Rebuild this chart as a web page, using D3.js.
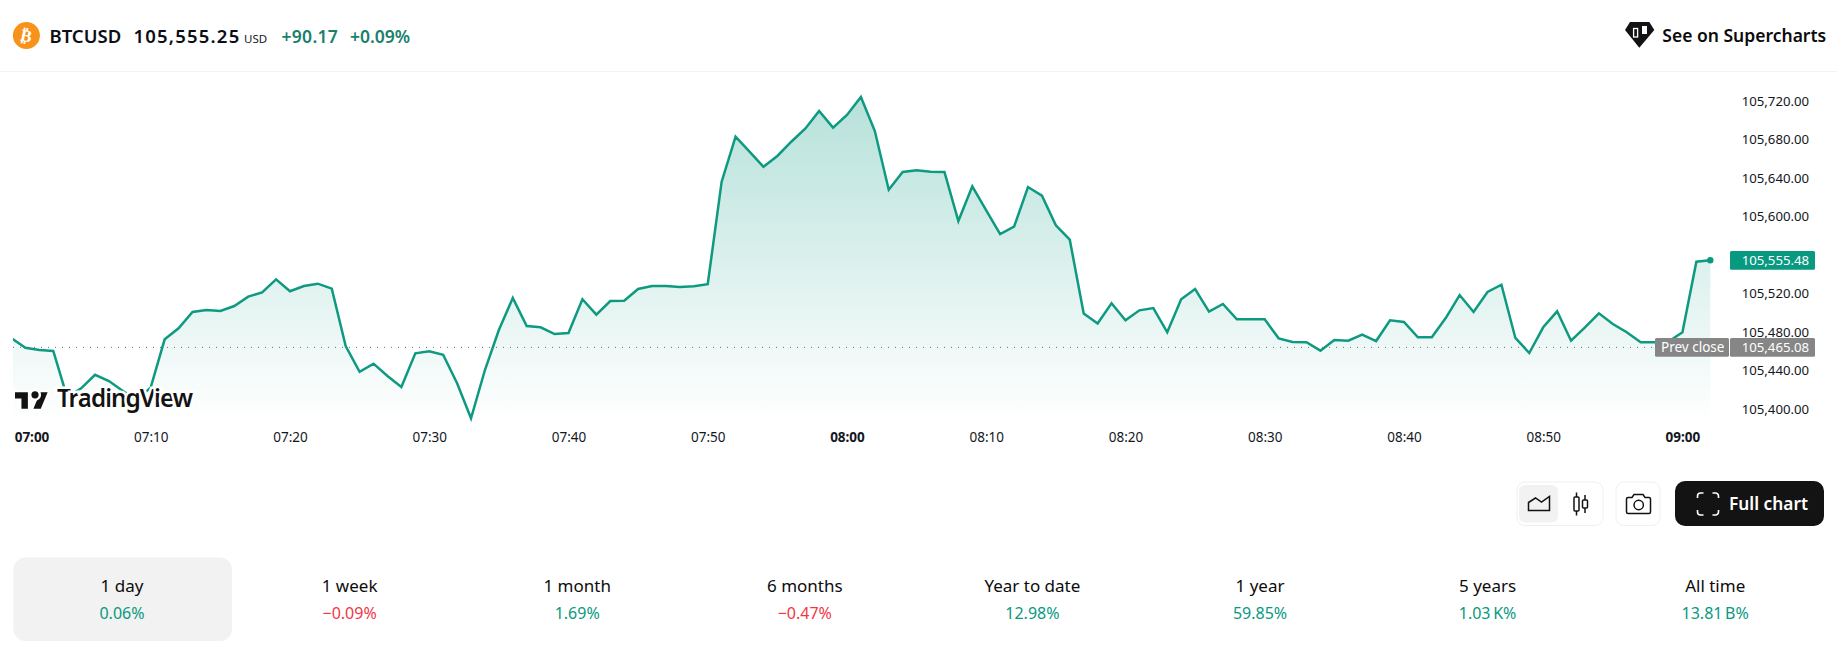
<!DOCTYPE html>
<html>
<head>
<meta charset="utf-8">
<script src="https://cdn.jsdelivr.net/npm/d3@7"></script>
<style>
  html, body { margin: 0; padding: 0; background: #fff; }
  svg { display: block; font-family: "Noto Sans", sans-serif; }
</style>
</head>
<body>
<div class="chart"></div>
<script>
// one minute closes, 07:00 to 09:02
const closes = [
  105473.4, 105463.7, 105461.3, 105460.3, 105412.1, 105421.5, 105435.6, 105429.1, 105418.7, 105409.3,
  105422.5, 105472.4, 105483.8, 105500.8, 105502.8, 105501.8, 105507.0, 105516.7, 105521.2, 105534.7,
  105522.3, 105527.8, 105530.2, 105525.0, 105465.4, 105438.7, 105447.1, 105434.3, 105422.8, 105457.9,
  105460.0, 105456.4, 105426.7, 105390.3, 105440.5, 105482.1, 105515.3, 105486.2, 105484.9, 105477.9,
  105479.0, 105514.0, 105498.0, 105512.2, 105512.4, 105524.7, 105527.8, 105527.8, 105526.7, 105527.5,
  105529.6, 105636.2, 105682.9, 105667.3, 105651.7, 105662.9, 105677.7, 105691.2, 105709.6, 105692.3,
  105705.5, 105724.2, 105688.8, 105627.8, 105646.2, 105648.0, 105646.5, 105646.2, 105595.3, 105631.4,
  105606.4, 105581.8, 105589.4, 105630.6, 105621.6, 105590.9, 105575.9, 105499.2, 105488.8, 105509.8,
  105492.2, 105502.5, 105504.9, 105479.7, 105514.0, 105524.7, 105501.1, 105509.1, 105493.2, 105493.2,
  105493.2, 105473.4, 105469.6, 105469.3, 105460.6, 105471.7, 105471.0, 105477.2, 105470.6, 105492.2,
  105490.4, 105474.5, 105474.5, 105494.5, 105518.4, 105500.8, 105521.6, 105529.1, 105473.8, 105458.2,
  105484.9, 105501.5, 105471.0, 105484.9, 105499.4, 105488.3, 105479.7, 105469.3, 105469.3, 105470.1,
  105479.7, 105553.0, 105554.5
];
const prevClose = 105465.08;
const lastLabel = '105,555.48';
const prevLabel = '105,465.08';

const priceTicks = [105400, 105440, 105480, 105520, 105560, 105600, 105640, 105680, 105720];
const timeTicks = [0, 10, 20, 30, 40, 50, 60, 70, 80, 90, 100, 110, 120];
const timeLabels = ['07:00', '07:10', '07:20', '07:30', '07:40', '07:50', '08:00', '08:10', '08:20', '08:30', '08:40', '08:50', '09:00'];
const boldTimes = ['07:00', '08:00', '09:00'];

const periods = ['1 day', '1 week', '1 month', '6 months', 'Year to date', '1 year', '5 years', 'All time'];
const periodValues = ['0.06%', '\u22120.09%', '1.69%', '\u22120.47%', '12.98%', '59.85%', '1.03\u202fK%', '13.81\u202fB%'];

const green = '#089981';
const red = '#f23645';
const width = 1837;
const height = 653;

const svg = d3.select('.chart').append('svg')
  .attr('width', width)
  .attr('height', height);

const defs = svg.append('defs');
const grad = defs.append('linearGradient')
  .attr('id', 'fill')
  .attr('gradientUnits', 'userSpaceOnUse')
  .attr('x1', 0).attr('x2', 0).attr('y1', 90).attr('y2', 421);
grad.append('stop').attr('offset', 0).attr('stop-color', green).attr('stop-opacity', 0.3);
grad.append('stop').attr('offset', 1).attr('stop-color', green).attr('stop-opacity', 0);
defs.append('clipPath').attr('id', 'pane')
  .append('rect').attr('x', 13).attr('y', 72).attr('width', 1720).attr('height', 350);

// small text helper
function label(x, y, str, size, opts) {
  opts = opts || {};
  return svg.append('text')
    .attr('x', x).attr('y', y)
    .attr('font-size', size)
    .attr('font-weight', opts.weight || 400)
    .attr('fill', opts.fill || '#131722')
    .attr('text-anchor', opts.anchor || 'start')
    .style('letter-spacing', opts.spacing || null)
    .text(str);
}

//scales
const x = d3.scaleLinear().domain([0, 122]).range([11.5, 1710.3]);
const y = d3.scaleLinear().domain([105400, 105720]).range([409, 101]);
const plotBottom = 421;

//header
svg.append('line').attr('x1', 0).attr('x2', width).attr('y1', 71.5).attr('y2', 71.5).attr('stroke', '#f0f3fa');
svg.append('circle').attr('cx', 26.4).attr('cy', 35.5).attr('r', 13.5).attr('fill', '#f7931a');
svg.append('text').attr('x', 26.4).attr('y', 41.5).attr('text-anchor', 'middle')
  .attr('font-size', 17).attr('font-weight', 700).attr('fill', '#fff')
  .attr('transform', 'rotate(12 26.4 35.5)')
  .attr('font-family', '"DejaVu Sans"').text('\u20bf');
label(49.5, 42.7, 'BTCUSD', 18.5, {weight: 600, fill: '#0c0e15'});
label(133.5, 42.7, '105,555.25', 18.5, {weight: 600, spacing: '1.2px', fill: '#0c0e15'});
label(244, 42.7, 'USD', 11.5);
label(281.5, 42.7, '+90.17', 17.5, {weight: 600, fill: '#1b7f6e', spacing: '0.3px'});
label(350, 42.7, '+0.09%', 17.5, {weight: 600, fill: '#1b7f6e'});

svg.append('polygon')
  .attr('points', d3.zip([1630, 1649.3, 1654.3, 1639.3, 1625], [22, 22, 30, 47.7, 30]).join(' '))
  .attr('fill', '#131313');
svg.append('rect').attr('x', 1633.6).attr('y', 28.5).attr('width', 4).attr('height', 8.5)
  .attr('fill', 'none').attr('stroke', '#fff').attr('stroke-width', 1.3);
svg.append('rect').attr('x', 1642).attr('y', 26).attr('width', 5).attr('height', 8).attr('fill', '#fff');
label(1662.3, 42, 'See on Supercharts', 17.5, {weight: 600, fill: '#0c0c0c'});

//area and line
const plot = svg.append('g').attr('clip-path', 'url(#pane)');
plot.append('path')
  .datum(closes)
  .attr('fill', 'url(#fill)')
  .attr('d', d3.area().x((d, i) => x(i)).y0(plotBottom).y1(d => y(d)));

svg.append('line')
  .attr('x1', 13).attr('x2', 1655)
  .attr('y1', y(prevClose) + 1).attr('y2', y(prevClose) + 1)
  .attr('stroke', '#6a6d78').attr('stroke-width', 1).attr('stroke-dasharray', '1 6');

plot.append('path')
  .datum(closes)
  .attr('fill', 'none')
  .attr('stroke', '#0e9a80')
  .attr('stroke-width', 2.5)
  .attr('stroke-linejoin', 'miter')
  .attr('d', d3.line().x((d, i) => x(i)).y(d => y(d)));

svg.append('circle')
  .attr('cx', x(closes.length - 1)).attr('cy', y(closes[closes.length - 1]))
  .attr('r', 3.2).attr('fill', green);

//tradingview logo, white halo hides the line behind it
const logo = svg.append('g').attr('fill', '#131313').attr('stroke', '#fff').attr('stroke-width', 5)
  .style('paint-order', 'stroke');
logo.append('path').attr('transform', 'translate(15,388.5) scale(0.92)')
  .attr('d', 'M14 22H7V11H0V4h14v18zM28 22h-8l7.5-18h8L28 22z');
logo.append('circle').attr('cx', 35).attr('cy', 394.8).attr('r', 3.6);
logo.append('text').attr('x', 57).attr('y', 407.3).attr('font-size', 24.5).attr('font-weight', 600)
  .attr('textLength', 136).text('TradingView');

//price axis
const yAxis = svg.append('g')
  .attr('transform', 'translate(1741.7,0)')
  .call(d3.axisRight(y).tickValues(priceTicks).tickSize(0).tickPadding(0).tickFormat(d3.format(',.2f')));
yAxis.select('.domain').remove();
yAxis.selectAll('text').attr('font-size', 13.2).attr('font-family', '"Noto Sans", sans-serif').attr('fill', '#131722');

//time axis
const xAxis = svg.append('g')
  .attr('transform', 'translate(0,432)')
  .call(d3.axisBottom(x).tickValues(timeTicks).tickSize(0).tickPadding(0).tickFormat((d, i) => timeLabels[i]));
xAxis.select('.domain').remove();
xAxis.selectAll('text')
  .attr('font-size', 13.5)
  .attr('font-family', '"Noto Sans", sans-serif')
  .attr('fill', '#131722')
  .attr('font-weight', d => boldTimes.includes(timeLabels[timeTicks.indexOf(d)]) ? 700 : 400)
  .attr('dx', d => d === 0 ? 20 : 0);

//price tags
svg.append('rect').attr('x', 1730).attr('y', 251).attr('width', 85).attr('height', 18.7).attr('rx', 1.5).attr('fill', green);
label(1741.7, 264.5, lastLabel, 13.2, {fill: '#fff'});
svg.append('rect').attr('x', 1655).attr('y', 338).attr('width', 74).attr('height', 18.7).attr('rx', 1.5).attr('fill', '#868686');
label(1661, 352, 'Prev close', 13.5, {fill: '#fff'});
svg.append('rect').attr('x', 1730).attr('y', 338).attr('width', 85).attr('height', 18.7).attr('rx', 1.5).attr('fill', '#868686');
label(1741.7, 351.5, prevLabel, 13.2, {fill: '#fff'});

//chart style buttons
svg.append('rect').attr('x', 1517).attr('y', 482).attr('width', 86).attr('height', 43.5).attr('rx', 8)
  .attr('fill', '#fff').attr('stroke', '#f0f0f0');
svg.append('rect').attr('x', 1519).attr('y', 485).attr('width', 39).attr('height', 37.5).attr('rx', 6).attr('fill', '#f2f2f2');
svg.append('path').attr('d', 'M1528.5 510.5v-8l7 -4.5 6 4 8 -5.5v14z')
  .attr('fill', 'none').attr('stroke', '#131313').attr('stroke-width', 1.5);
const candles = svg.append('g').attr('fill', 'none').attr('stroke', '#131313').attr('stroke-width', 1.5);
candles.append('rect').attr('x', 1574).attr('y', 497).attr('width', 5).attr('height', 14).attr('rx', 1);
candles.append('path').attr('d', 'M1576.5 492.5v4.5M1576.5 511v4.5M1585 495v5M1585 508v5');
candles.append('rect').attr('x', 1582.5).attr('y', 500).attr('width', 5).attr('height', 8).attr('rx', 1);

svg.append('rect').attr('x', 1616).attr('y', 482).attr('width', 44).attr('height', 43.5).attr('rx', 8)
  .attr('fill', '#fff').attr('stroke', '#f0f0f0');
const camera = svg.append('g').attr('fill', 'none').attr('stroke', '#131313').attr('stroke-width', 1.5);
camera.append('path').attr('d', 'M1628 497.5h4l2 -3h9l2 3h4a1.5 1.5 0 0 1 1.5 1.5v13a1.5 1.5 0 0 1 -1.5 1.5h-21a1.5 1.5 0 0 1 -1.5 -1.5v-13a1.5 1.5 0 0 1 1.5 -1.5z');
camera.append('circle').attr('cx', 1638.7).attr('cy', 505).attr('r', 4.7);

svg.append('rect').attr('x', 1675).attr('y', 481).attr('width', 149).attr('height', 45).attr('rx', 10).attr('fill', '#131313');
svg.append('path')
  .attr('d', 'M1697.5 498v-2a3 3 0 0 1 3 -3h3M1712.5 493h3a3 3 0 0 1 3 3v2M1718.5 510v2a3 3 0 0 1 -3 3h-3M1703.5 515h-3a3 3 0 0 1 -3 -3v-2')
  .attr('fill', 'none').attr('stroke', '#fff').attr('stroke-width', 1.6);
label(1729, 509.5, 'Full chart', 17.3, {weight: 600, fill: '#fff'});

//period tabs
svg.append('rect').attr('x', 13.5).attr('y', 557.5).attr('width', 218.5).attr('height', 83.5).attr('rx', 12).attr('fill', '#f2f2f2');
periods.forEach(function(p, i) {
  const cx = 122 + i * 227.6;
  label(cx, 591.5, p, 17, {anchor: 'middle', fill: '#0c0c0c'});
  label(cx, 618.5, periodValues[i], 16, {anchor: 'middle', fill: periodValues[i][0] === '\u2212' ? red : green});
});
</script>
</body>
</html>
